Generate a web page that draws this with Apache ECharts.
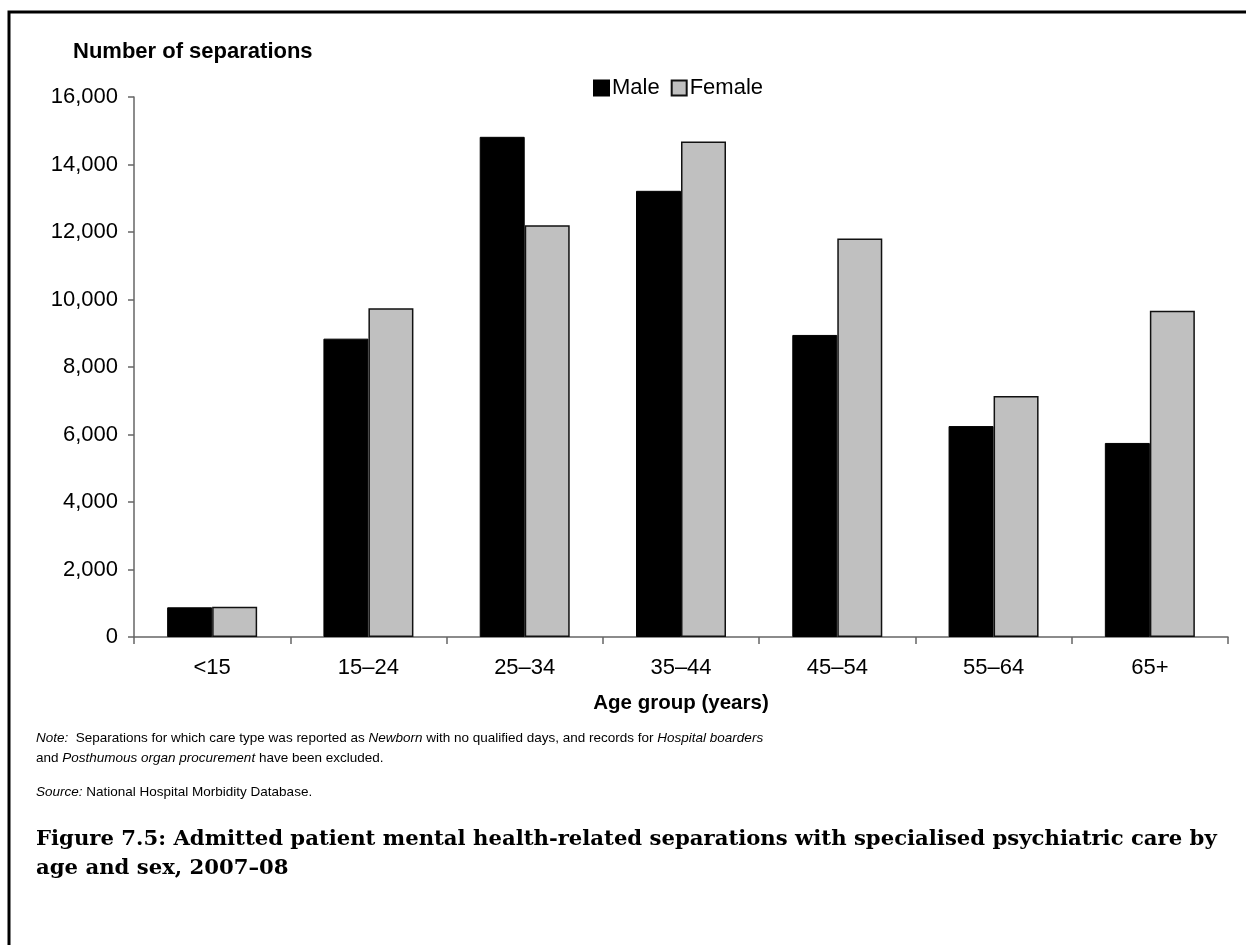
<!DOCTYPE html>
<html>
<head>
<meta charset="utf-8">
<script src="https://cdn.jsdelivr.net/npm/echarts@6/dist/echarts.min.js"></script>
<style>
  html, body { margin: 0; padding: 0; background: #fff; }
  #chart { width: 1246px; height: 945px; }
</style>
</head>
<body>
<div id="chart"></div>
<script>
// age groups along the x axis
const ageGroups = ["<15", "15–24", "25–34", "35–44", "45–54", "55–64", "65+"];
// separations
const male = [880, 8840, 14820, 13220, 8950, 6250, 5750];
const female = [900, 9740, 12200, 14680, 11810, 7140, 9670];

const chart = echarts.init(document.getElementById("chart"));

const font = "Arial, 'Liberation Sans', sans-serif";

chart.setOption({
  animation: false,
  backgroundColor: "#fff",
  title: [
    {
      text: "Number of separations",
      left: 68,
      top: 36,
      textStyle: { fontFamily: font, fontSize: 22, fontWeight: "bold", color: "#000" }
    },
    {
      text: "{i|Note:}  Separations for which care type was reported as {i|Newborn} with no qualified days, and records for {i|Hospital boarders}\nand {i|Posthumous organ procurement} have been excluded.",
      left: 31,
      top: 723,
      textStyle: {
        fontFamily: font, fontSize: 13.5, fontWeight: "normal", color: "#000", lineHeight: 20,
        rich: { i: { fontFamily: font, fontSize: 13.5, fontWeight: "normal", fontStyle: "italic", color: "#000", lineHeight: 20 } }
      }
    },
    {
      text: "{i|Source:} National Hospital Morbidity Database.",
      left: 31,
      top: 780,
      textStyle: {
        fontFamily: font, fontSize: 13.5, fontWeight: "normal", color: "#000",
        rich: { i: { fontFamily: font, fontSize: 13.5, fontWeight: "normal", fontStyle: "italic", color: "#000" } }
      }
    },
    {
      text: "Figure 7.5: Admitted patient mental health-related separations with specialised psychiatric care by\nage and sex, 2007–08",
      left: 31,
      top: 820,
      textStyle: {
        fontFamily: "'DejaVu Serif', 'Liberation Serif', serif",
        fontSize: 21.2, fontWeight: "bold", color: "#000", lineHeight: 29
      }
    }
  ],
  graphic: [
    {
      type: "rect",
      shape: { x: 9, y: 12, width: 1300, height: 1000 },
      style: { fill: "none", stroke: "#000", lineWidth: 3 },
      silent: true
    }
  ],
  legend: {
    top: 72,
    left: 588,
    itemWidth: 15,
    itemHeight: 15,
    itemGap: 11,
    icon: "rect",
    textStyle: { fontFamily: font, fontSize: 22, color: "#000", padding: [0, 0, 0, -2] },
    data: ["Male", "Female"]
  },
  grid: {
    left: 134,
    right: 18,
    top: 97,
    bottom: 308,
    containLabel: false
  },
  xAxis: {
    type: "category",
    data: ageGroups,
    name: "Age group (years)",
    nameLocation: "middle",
    nameGap: 56,
    nameTextStyle: { fontFamily: font, fontSize: 20.5, fontWeight: "bold", color: "#000" },
    axisLine: { lineStyle: { color: "#666", width: 1.5 } },
    axisTick: { show: true, length: 7, lineStyle: { color: "#666", width: 1.5 } },
    axisLabel: { fontFamily: font, fontSize: 22, color: "#000", margin: 20 },
    splitLine: { show: false }
  },
  yAxis: {
    type: "value",
    min: 0,
    max: 16000,
    interval: 2000,
    axisLine: { show: true, lineStyle: { color: "#666", width: 1.5 } },
    axisTick: { show: true, length: 6, lineStyle: { color: "#666", width: 1.5 } },
    axisLabel: {
      fontFamily: font, fontSize: 22, color: "#000", margin: 16,
      formatter: v => v.toLocaleString("en-US")
    },
    splitLine: { show: false }
  },
  series: [
    {
      name: "Male",
      type: "bar",
      data: male,
      barWidth: 45,
      barGap: "0%",
      itemStyle: { color: "#000", borderColor: "#000", borderWidth: 1 }
    },
    {
      name: "Female",
      type: "bar",
      data: female,
      barWidth: 45,
      barGap: "0%",
      itemStyle: { color: "#c0c0c0", borderColor: "#111", borderWidth: 1.5 }
    }
  ]
});
</script>
</body>
</html>
